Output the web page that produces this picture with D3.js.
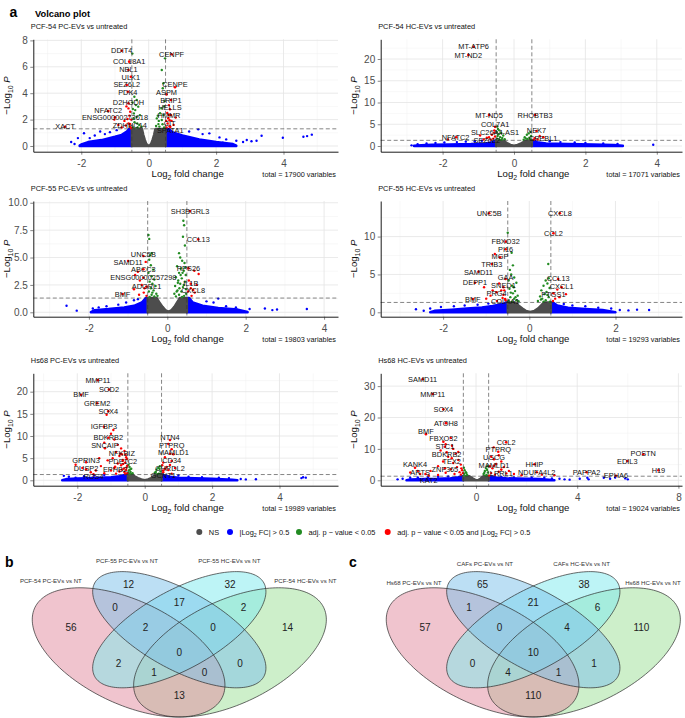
<!DOCTYPE html>
<html>
<head>
<meta charset="utf-8">
<script src="https://cdn.jsdelivr.net/npm/d3@7/dist/d3.min.js"></script>
<style>
html,body{margin:0;padding:0;background:#fff;}
svg{display:block;}
</style>
</head>
<body>
<svg id="chart" width="685" height="718"></svg>
<script>
// ================= DATA =================
const panelTitles = ["PCF-54 PC-EVs vs untreated","PCF-54 HC-EVs vs untreated","PCF-55 PC-EVs vs untreated","PCF-55 HC-EVs vs untreated","Hs68 PC-EVs vs untreated","Hs68 HC-EVs vs untreated"];
const panelTotals = [17900,17071,19803,19293,19989,19024];
const xLimits = [[-3.424,5.617],[-3.734,4.706],[-3.418,4.355],[-3.448,3.543],[-3.306,5.736],[-3.767,8.142]];
const yLimits = [[-0.432,8.083],[-1.31,24.53],[-0.401,10.16],[-0.581,14.70],[-1.219,24.15],[-1.72,34.08]];
const xTickSets = [[-2,0,2,4],[-2,0,2,4],[-2,0,2,4],[-2,0,2],[-2,0,2,4],[0,4,8]];
const yTickSets = [[0,2,4,6,8],[0,5,10,15,20],[0,2.5,5,7.5,10],[0,5,10],[0,5,10,15,20],[0,10,20,30]];
const fcCutoff = 0.5, pCutoff = 0.05;
const legendLabels = ["NS","|Log2 FC| > 0.5","adj. p − value < 0.05","adj. p − value < 0.05 and |Log2 FC| > 0.5"];

// ---- panel 1: PCF-54 PC-EVs ----
const p1Genes = [["DDIT4",-0.80,7.22],["CENPF",0.68,6.95],["COL18A1",-0.58,6.39],["NBL1",-0.60,5.76],["ULK1",-0.53,5.25],["SEZ6L2",-0.65,4.62],["CENPE",0.78,4.45],["PDK4",-0.62,4.11],["ASPM",0.53,3.91],["BRIP1",0.66,3.48],["D2HGDH",-0.60,3.23],["HELLS",0.63,2.78],["NFATC2",-1.20,2.65],["HMMR",0.60,2.35],["ENSG00000273618",-1.0,2.17],["CIT",0.62,1.95],["ZDHHC14",-0.56,1.67],["XACT",-2.48,1.46],["SPATA1",0.64,1.45]];
const p1Red = [[-0.55,1.45],[-0.6,1.7],[-0.52,2.0],[-0.68,1.55],[-0.57,2.3],[-0.63,2.05],[-0.72,1.9],[-0.55,2.6],[-0.6,2.85],[-0.52,1.35],[-0.9,1.6],[-1.02,2.0],[-0.8,1.4],[-0.66,3.0],[0.53,1.4],[0.56,1.7],[0.62,1.5],[0.58,2.1],[0.68,1.9],[0.74,1.6],[0.8,2.15],[0.55,2.5],[0.6,3.1],[0.66,2.35],[0.52,1.9]];
const p1Green = [[-0.485,7.0],[-0.425,3.73],[-0.355,3.48],[-0.40,2.72],[-0.45,2.09],[-0.34,1.71],[-0.46,1.41],[-0.26,2.34],[-0.31,2.98],[-0.38,3.1],[-0.44,2.47],[-0.28,1.59],[-0.21,1.47],[-0.36,2.2],[-0.42,1.8],[-0.48,3.3],[-0.33,1.4],[-0.47,2.8],[0.486,6.64],[0.388,5.76],[0.437,4.75],[0.418,4.37],[0.338,2.48],[0.24,2.09],[0.288,1.66],[0.437,2.34],[0.388,1.97],[0.318,1.47],[0.457,1.41],[0.22,1.52],[0.378,2.85],[0.47,3.4],[0.45,3.0],[0.3,1.9],[0.27,2.3],[0.41,1.65]];
const p1BlueDots = [[-2.1,0.6],[-1.92,0.97],[-1.75,0.6],[-1.6,0.8],[-1.44,1.1],[-1.3,0.9],[-1.15,1.05],[-0.95,1.2],[-2.3,0.3],[-2.2,0.15],[1.2,1.1],[1.47,1.26],[1.6,0.9],[1.8,0.96],[2.1,0.65],[2.3,0.5],[2.6,0.4],[2.8,0.3],[2.91,0.45],[3.05,0.36],[3.2,0.4],[3.35,0.78],[3.98,0.63],[4.59,0.7],[4.7,0.75],[4.84,0.86],[2.2,0.25]];
const p1BlueL = [[-2.05,0.03],[-2.0,0.12],[-1.8,0.3],[-1.4,0.45],[-1.0,0.7],[-0.8,0.85],[-0.65,1.1],[-0.58,1.3],[-0.5,1.3]];
const p1BlueR = [[0.5,1.3],[0.6,1.3],[0.7,1.05],[1.0,0.8],[1.5,0.5],[2.0,0.3],[2.5,0.15],[2.6,0.03]];
const p1NS = [[-0.5,1.3],[-0.2,1.3],[-0.16,0.85],[-0.12,0.5],[-0.08,0.22],[-0.04,0.07],[0,0.03],[0.04,0.07],[0.08,0.22],[0.12,0.5],[0.16,0.85],[0.2,1.3],[0.5,1.3]];

// ---- panel 2: PCF-54 HC-EVs ----
const p2Genes = [["MT-ATP6",-1.13,22.8],["MT-ND2",-1.28,20.9],["MT-ND5",-0.70,7.1],["RHOBTB3",0.59,7.1],["COL7A1",-0.53,4.4],["NEK7",0.63,3.45],["SLC26A4-AS1",-0.55,3.06],["NFATC2",-1.62,2.0],["CPEBL1",0.82,2.0],["SEZ6L2",-0.76,1.9]];
const p2Red = [[-0.62,2.6],[-0.7,2.0],[-0.58,1.7],[-0.85,1.5],[-0.95,2.4],[-1.85,1.5],[-0.55,3.6],[-0.65,1.45],[-0.53,2.2],[0.58,1.8],[0.66,1.5],[0.72,2.3],[0.55,1.4]];
const p2Green = [[-0.47,4.5],[-0.45,3.9],[-0.41,3.6],[-0.48,3.2],[-0.36,3.0],[-0.43,2.7],[-0.3,2.4],[-0.46,2.3],[-0.39,2.05],[-0.33,1.85],[-0.48,1.7],[-0.26,1.55],[-0.41,1.5],[-0.35,1.4],[0.46,3.2],[0.41,2.9],[0.36,2.6],[0.48,2.3],[0.3,2.0],[0.43,1.9],[0.38,1.6],[0.27,1.45],[0.47,1.5],[0.33,1.75]];
const p2BlueDots = [[-2.87,0.15],[-2.7,0.4],[-2.45,0.6],[-2.2,0.7],[-1.95,0.8],[-1.6,0.9],[-1.35,1.0],[-1.1,1.1],[-0.9,1.2],[1.0,1.1],[1.3,0.9],[1.7,0.8],[2.0,0.7],[2.5,0.6],[2.9,0.5],[3.9,0.3]];
const p2BlueL = [[-2.8,0.05],[-2.6,0.2],[-2.3,0.3],[-1.8,0.35],[-1.2,0.45],[-0.8,0.6],[-0.6,0.9],[-0.52,1.3],[-0.5,1.3]];
const p2BlueR = [[0.5,1.3],[0.55,1.3],[0.65,0.9],[0.9,0.6],[1.5,0.45],[2.2,0.35],[2.8,0.25],[3.05,0.05]];
const p2NS = [[-0.5,1.3],[-0.32,1.3],[-0.25,1.0],[-0.18,0.6],[-0.1,0.25],[0.0,0.05],[0.1,0.25],[0.2,0.6],[0.28,1.0],[0.36,1.3],[0.5,1.3]];

// ---- panel 3: PCF-55 PC-EVs ----
const p3Genes = [["SH3BGRL3",0.58,9.24],["CCL13",0.79,6.66],["UNC5B",-0.61,5.14],["SAMD11",-1.0,4.68],["ABCC3",-0.61,3.92],["RPS26",0.54,4.01],["ENSG00000257298",-0.61,3.16],["IL1B",0.6,2.6],["ADGRL1",-0.53,2.34],["CXCL8",0.66,2.03],["BMF",-1.14,1.67]];
const p3Red = [[-0.55,4.6],[-0.75,3.7],[-0.82,3.4],[-0.7,2.9],[-0.85,2.1],[-0.72,1.6],[-0.6,1.8],[-0.65,2.5],[-0.53,1.5],[-0.58,2.2],[0.69,3.8],[0.8,3.5],[0.75,2.5],[0.6,2.2],[0.7,1.8],[0.55,2.9],[0.62,1.5],[0.53,1.9]];
const p3Green = [[-0.48,7.05],[-0.46,6.7],[-0.40,5.4],[-0.44,5.2],[-0.46,4.8],[-0.42,4.3],[-0.36,3.9],[-0.48,3.6],[-0.4,3.3],[-0.33,3.0],[-0.45,2.8],[-0.38,2.6],[-0.3,2.4],[-0.42,2.2],[-0.35,2.0],[-0.47,1.9],[-0.28,1.7],[-0.4,1.6],[-0.33,1.45],[-0.45,1.4],[-0.25,1.5],[-0.38,1.8],[0.41,8.36],[0.43,7.95],[0.40,6.9],[0.45,6.1],[0.30,5.4],[0.33,5.0],[0.38,4.7],[0.44,4.5],[0.25,4.2],[0.35,4.0],[0.42,3.8],[0.30,3.6],[0.47,3.4],[0.22,3.2],[0.37,3.1],[0.28,2.9],[0.45,2.8],[0.33,2.6],[0.2,2.4],[0.4,2.3],[0.48,2.1],[0.26,2.0],[0.36,1.9],[0.18,1.7],[0.3,1.6],[0.43,1.5],[0.22,1.45],[0.38,1.4],[0.48,1.7],[0.27,2.7],[0.42,2.5],[0.34,3.4],[0.46,4.1],[0.24,1.9],[0.39,3.6],[0.31,2.2]];
const p3BlueDots = [[-2.57,0.6],[-2.31,0.15],[-1.9,0.35],[-1.75,0.45],[-1.55,0.55],[-1.25,0.7],[-1.05,0.9],[-0.85,1.1],[-0.75,1.2],[1.0,1.0],[1.18,0.9],[1.3,1.25],[1.5,0.55],[1.75,0.45],[2.1,0.3],[2.49,0.35],[2.68,0.2],[2.8,0.25],[3.56,0.3]];
const p3BlueL = [[-1.95,0.03],[-1.85,0.2],[-1.5,0.3],[-1.1,0.45],[-0.85,0.6],[-0.65,0.9],[-0.55,1.3],[-0.5,1.3]];
const p3BlueR = [[0.5,1.3],[0.56,1.3],[0.65,0.9],[0.9,0.6],[1.3,0.4],[1.8,0.25],[2.05,0.03]];
const p3NS = [[-0.5,1.3],[-0.27,1.3],[-0.2,0.9],[-0.12,0.5],[-0.05,0.2],[0.03,0.05],[0.11,0.2],[0.18,0.5],[0.25,0.9],[0.32,1.3],[0.5,1.3]];

// ---- panel 4: PCF-55 HC-EVs ----
const p4Genes = [["UNC5B",-0.93,13.08],["CXCL8",0.71,13.08],["CCL2",0.56,10.44],["FBXO32",-0.55,9.33],["PI16",-0.55,8.32],["MGP",-0.68,7.26],["TRIB3",-0.87,6.38],["SAMD11",-1.18,5.36],["GAA",-0.55,4.40],["CCL13",0.67,4.40],["DEPP1",-1.26,3.91],["SNED1",-0.6,3.30],["CXCL1",0.75,3.30],["PRG4",-0.76,2.64],["PTGS1",0.56,2.51],["BMF",-1.31,1.76],["COL4A1",-0.56,1.76]];
const p4Red = [[-0.8,7.7],[-0.7,3.8],[-0.65,2.9],[-0.9,2.2],[-1.0,1.8],[-0.6,2.3],[-0.75,1.5],[-0.55,1.6],[-0.58,2.9],[-0.62,1.9],[-0.85,2.9],[-1.05,3.3],[0.85,2.4],[0.7,2.0],[0.6,1.8],[0.55,1.5],[0.65,3.0]];
const p4Green = [[-0.50,10.5],[-0.41,7.87],[-0.38,6.2],[-0.45,5.6],[-0.42,5.0],[-0.35,4.6],[-0.48,4.2],[-0.3,3.9],[-0.4,3.5],[-0.46,3.1],[-0.33,2.8],[-0.38,2.5],[-0.27,2.2],[-0.44,2.0],[-0.35,1.8],[-0.3,1.6],[-0.48,1.5],[-0.4,1.4],[-0.25,1.45],[-0.36,3.3],[-0.43,2.6],[-0.32,2.0],[0.44,6.38],[0.45,4.5],[0.38,4.2],[0.42,3.8],[0.33,3.5],[0.47,3.2],[0.28,2.9],[0.4,2.7],[0.35,2.4],[0.25,2.1],[0.45,2.0],[0.3,1.8],[0.38,1.6],[0.2,1.5],[0.48,1.4],[0.33,1.4],[0.42,2.3],[0.27,1.7]];
const p4BlueDots = [[-2.63,0.4],[-2.45,0.2],[-2.3,0.5],[-2.05,0.7],[-1.75,0.8],[-1.5,0.9],[-1.2,1.0],[-0.95,1.15],[0.8,1.1],[1.0,0.9],[1.3,0.8],[1.6,0.6],[1.9,0.5],[2.1,0.3],[2.3,0.25],[2.5,0.35],[2.78,0.3]];
const p4BlueL = [[-2.3,0.03],[-2.2,0.2],[-1.8,0.35],[-1.45,0.5],[-1.1,0.65],[-0.85,0.85],[-0.62,1.1],[-0.55,1.3],[-0.5,1.3]];
const p4BlueR = [[0.5,1.3],[0.55,1.3],[0.65,0.9],[0.9,0.6],[1.3,0.45],[1.7,0.3],[2.0,0.03]];
const p4NS = [[-0.5,1.3],[-0.33,1.3],[-0.25,0.9],[-0.16,0.5],[-0.08,0.2],[0.02,0.05],[0.12,0.2],[0.2,0.5],[0.27,0.9],[0.34,1.3],[0.5,1.3]];

// ---- panel 5: Hs68 PC-EVs ----
const p5Genes = [["MMP11",-1.39,22.6],["SOD2",-1.06,20.5],["BMF",-1.89,19.3],["GREM2",-1.41,17.4],["SOX4",-1.08,15.6],["IGFBP3",-1.21,12.1],["BDKRB2",-1.08,9.62],["NTN4",0.75,9.10],["PTPRQ",0.80,7.0],["SNCAIP",-1.18,7.22],["NFKBIZ",-0.68,5.87],["MAMLD1",0.85,5.87],["PDE1C2",-0.65,4.4],["CD34",0.8,4.36],["GPRIN3",-1.74,4.06],["CHRDL2",0.75,3.45],["DUSP2",-1.74,2.48],["EPHB2",-0.88,3.07],["GCNT1",0.55,2.2],["RGS4",-1.52,1.35]];
const p5Red = [[-0.93,11.35],[-1.0,10.5],[-0.9,9.2],[-0.8,8.0],[-1.2,8.5],[-0.7,7.2],[-0.85,6.4],[-0.6,6.6],[-0.75,5.5],[-0.55,5.2],[-0.95,5.0],[-0.65,4.6],[-1.1,4.5],[-0.58,4.0],[-0.8,3.8],[-0.7,3.4],[-0.52,3.3],[-1.3,3.2],[-0.9,2.8],[-0.62,2.6],[-0.55,2.3],[-1.0,2.2],[-0.75,2.0],[-0.6,1.8],[-0.52,1.6],[-1.6,1.8],[-0.85,1.5],[-1.2,1.6],[-2.05,3.5],[-1.85,2.8],[-0.53,4.8],[-0.57,5.8],[-0.64,3.7],[-0.54,2.9],[-0.68,2.4],[-0.58,1.4],[-0.72,6.0],[-1.13,14.8],[-1.45,2.2],[-1.35,5.0],[0.7,8.2],[0.75,6.0],[0.6,5.2],[0.55,4.0],[0.65,3.0],[0.7,2.3],[0.9,2.8],[0.55,1.8],[0.8,1.5],[0.6,2.6],[0.52,3.4]];
const p5Green = [[-0.48,3.5],[-0.45,3.0],[-0.4,2.6],[-0.47,2.2],[-0.42,1.9],[-0.36,1.6],[-0.45,1.45],[-0.39,1.4],[-0.44,2.4],[-0.48,1.7],[0.45,3.2],[0.4,2.8],[0.35,2.4],[0.47,2.0],[0.3,1.7],[0.42,1.5],[0.38,1.4],[0.44,2.6],[0.33,1.9]];
const p5BlueDots = [[-2.4,1.0],[-2.25,0.8],[-2.05,0.6],[-1.8,0.9],[-1.5,1.1],[-1.2,1.2],[1.0,1.1],[1.3,0.8],[1.7,0.7],[2.2,0.6],[2.5,0.5],[2.85,0.3],[3.0,0.2],[3.3,0.25],[4.65,0.5],[4.7,0.7],[4.78,0.6]];
const p5BlueL = [[-2.45,0.03],[-2.3,0.3],[-2.0,0.4],[-1.5,0.55],[-1.0,0.7],[-0.75,0.95],[-0.6,1.2],[-0.5,1.3]];
const p5BlueR = [[0.5,1.3],[0.6,1.1],[0.75,0.8],[1.0,0.6],[1.5,0.45],[2.0,0.35],[2.6,0.15],[2.75,0.03]];
const p5NS = [[-0.5,1.3],[-0.38,1.3],[-0.3,0.9],[-0.2,0.5],[-0.1,0.2],[0.0,0.05],[0.1,0.2],[0.19,0.5],[0.26,0.9],[0.32,1.3],[0.5,1.3]];

// ---- panel 6: Hs68 HC-EVs ----
const p6Genes = [["SAMD11",-2.11,32.2],["MMP11",-1.71,27.5],["SOX4",-1.29,22.6],["ATOH8",-1.19,18.2],["BMF",-1.98,14.7],["FBXO32",-1.29,12.3],["STC1",-1.23,10.7],["BDKRB2",-1.16,8.9],["CCL2",1.19,12.1],["PTPRQ",0.88,9.1],["UGCG",0.71,6.7],["TEX2",-0.96,7.0],["MAMLD1",0.71,4.65],["HHIP",2.31,5.1],["POSTN",6.61,8.3],["EDIL3",5.98,6.15],["H19",7.21,3.18],["KANK4",-2.41,4.0],["ZNF365",-1.23,3.8],["LRRL1",1.0,3.4],["NDUFA4L2",2.40,2.55],["PAPPA2",4.37,2.55],["ARTS",-2.21,2.0],["EPHA6",5.53,1.47],["KAT2",-1.87,1.5]];
const p6Red = [[-1.0,13.5],[-1.2,11.5],[-0.9,10.0],[-1.4,9.5],[-0.8,8.5],[-1.1,7.5],[-0.7,6.5],[-1.3,6.0],[-0.9,5.5],[-0.6,5.0],[-1.5,4.5],[-0.75,4.2],[-1.0,3.5],[-0.55,3.2],[-1.8,3.0],[-0.65,2.6],[-1.2,2.4],[-0.85,2.0],[-0.6,1.8],[-1.5,1.7],[-2.0,2.0],[-2.6,2.5],[-2.3,3.0],[-0.7,9.0],[-0.95,11.0],[-0.58,3.8],[-0.52,2.3],[0.7,10.5],[0.9,8.0],[0.6,7.5],[1.0,6.0],[0.8,5.2],[0.55,4.5],[1.1,4.2],[0.65,3.8],[1.3,3.0],[0.9,2.7],[0.6,2.3],[1.5,2.0],[0.75,1.8],[1.8,1.6],[2.6,1.8],[3.1,1.6],[0.52,1.5],[1.2,2.2]];
const p6Green = [[-0.48,4.0],[-0.45,3.2],[-0.4,2.6],[-0.47,2.1],[-0.35,1.7],[-0.44,1.5],[-0.38,2.3],[0.45,4.5],[0.4,3.8],[0.35,3.0],[0.47,2.5],[0.3,2.0],[0.42,1.7],[0.38,1.5],[0.44,3.3],[0.33,2.4]];
const p6BlueDots = [[-3.1,0.3],[-2.9,0.5],[-2.6,0.8],[-2.3,0.9],[-1.9,1.0],[-1.5,1.1],[-1.1,1.2],[1.0,1.1],[1.5,0.9],[2.2,0.9],[2.7,0.8],[3.0,0.6],[3.3,0.5],[3.5,0.3],[3.7,0.2],[4.1,0.5],[4.4,0.8],[4.45,0.3],[5.05,0.8],[5.3,0.5],[5.9,0.6],[6.0,0.3],[5.5,0.9]];
const p6BlueL = [[-2.75,0.03],[-2.6,0.25],[-2.0,0.4],[-1.5,0.5],[-1.0,0.7],[-0.7,1.0],[-0.55,1.3],[-0.5,1.3]];
const p6BlueR = [[0.5,1.3],[0.6,1.2],[0.8,0.9],[1.2,0.65],[2.0,0.5],[2.5,0.4],[3.0,0.15],[3.1,0.03]];
const p6NS = [[-0.5,1.3],[-0.26,1.3],[-0.18,0.9],[-0.1,0.45],[-0.03,0.15],[0.03,0.05],[0.1,0.15],[0.17,0.45],[0.23,0.9],[0.29,1.3],[0.5,1.3]];

// ---- Venn diagrams ----
const vennBSets = ["PCF-54 PC-EVs vs NT","PCF-55 PC-EVs vs NT","PCF-55 HC-EVs vs NT","PCF-54 HC-EVs vs NT"];
const vennCSets = ["Hs68 PC-EVs vs NT","CAFs PC-EVs vs NT","CAFs HC-EVs vs NT","Hs68 HC-EVs vs NT"];
const vennBCounts = [12,17,32,0,2,0,0,2,56,2,1,13,0,0,14];
const vennCCounts = [65,21,38,1,0,10,4,6,57,0,4,110,1,1,110];

// ================= LAYOUT / STYLE =================
const FONT = '"Liberation Sans", Arial, Helvetica, sans-serif';
const COL = {ns:"#4d4d4d", fc:"#0000ff", p:"#228b22", both:"#ff0000"};
const layout = [
  {left:33.3,right:338,top:39.3,bottom:151.7},
  {left:380.7,right:682,top:39.3,bottom:151.7},
  {left:33.3,right:338,top:201,bottom:316.7},
  {left:380.7,right:682,top:201,bottom:316.7},
  {left:33.3,right:338,top:373.3,bottom:485.7},
  {left:380.7,right:682,top:373.3,bottom:485.7}
];
const panelData = [
  {genes:p1Genes,red:p1Red,green:p1Green,blue:p1BlueDots,blueL:p1BlueL,blueR:p1BlueR,ns:p1NS},
  {genes:p2Genes,red:p2Red,green:p2Green,blue:p2BlueDots,blueL:p2BlueL,blueR:p2BlueR,ns:p2NS},
  {genes:p3Genes,red:p3Red,green:p3Green,blue:p3BlueDots,blueL:p3BlueL,blueR:p3BlueR,ns:p3NS},
  {genes:p4Genes,red:p4Red,green:p4Green,blue:p4BlueDots,blueL:p4BlueL,blueR:p4BlueR,ns:p4NS},
  {genes:p5Genes,red:p5Red,green:p5Green,blue:p5BlueDots,blueL:p5BlueL,blueR:p5BlueR,ns:p5NS},
  {genes:p6Genes,red:p6Red,green:p6Green,blue:p6BlueDots,blueL:p6BlueL,blueR:p6BlueR,ns:p6NS}
];

const svg = d3.select("#chart").attr("font-family", FONT);
svg.append("rect").attr("width",685).attr("height",718).attr("fill","#fff");

function richText(sel, parts, size){
  parts.forEach(([t,m],k)=>{
    const ts = sel.append("tspan").text(t);
    if(m===1){ ts.attr("font-size",size*0.72).attr("dy",size*0.28); }
    else if(k>0 && parts[k-1][1]===1){ ts.attr("dy",-size*0.28); }
    if(m===2) ts.attr("font-style","italic");
  });
}

function minorTicks(ticks, dom){
  const step = ticks[1]-ticks[0], out=[];
  for(let v=ticks[0]-step*3.5; v<=dom[1]; v+=step){ if(v>=dom[0]) out.push(+v.toFixed(4)); }
  return out;
}

// simple label repulsion (like ggrepel): keeps labels near their points, removes overlaps
function repel(nodes, L){
  const n = nodes.length;
  for(let it=0; it<500; it++){
    let any=false;
    for(let a=0;a<n;a++){
      for(let b=a+1;b<n;b++){
        const A=nodes[a], B=nodes[b];
        const ox=(A.w+B.w)/2-Math.abs(A.x-B.x);
        const oy=(A.h+B.h)/2-Math.abs(A.y-B.y);
        if(ox>0 && oy>0){
          any=true;
          if(oy<=ox*1.6){
            const dir = A.y<B.y ? -1 : (A.y>B.y ? 1 : (A.ay>=B.ay ? -1 : 1));
            A.y += dir*(oy/2+0.15); B.y -= dir*(oy/2+0.15);
          } else {
            const dir = A.x<B.x ? -1 : 1;
            A.x += dir*(ox/2+0.15); B.x -= dir*(ox/2+0.15);
          }
        }
      }
    }
    nodes.forEach(N=>{
      N.x = Math.max(L.left+N.w/2+1, Math.min(L.right-N.w/2-1, N.x));
      N.y = Math.max(L.top+N.h/2, Math.min(L.bottom-N.h/2-1, N.y));
    });
    if(!any) break;
  }
}

function drawPanel(i){
  const L = layout[i], D = panelData[i];
  const x = d3.scaleLinear().domain(xLimits[i]).range([L.left,L.right]);
  const y = d3.scaleLinear().domain(yLimits[i]).range([L.bottom,L.top]);
  const g = svg.append("g");
  const xt = xTickSets[i], yt = yTickSets[i];
  const grid = g.append("g");
  grid.selectAll(".xm").data(minorTicks(xt,xLimits[i])).join("line")
    .attr("x1",d=>x(d)).attr("x2",d=>x(d)).attr("y1",L.top).attr("y2",L.bottom)
    .attr("stroke","#f0f0f0").attr("stroke-width",0.5);
  grid.selectAll(".ym").data(minorTicks(yt,yLimits[i])).join("line")
    .attr("y1",d=>y(d)).attr("y2",d=>y(d)).attr("x1",L.left).attr("x2",L.right)
    .attr("stroke","#f0f0f0").attr("stroke-width",0.5);
  grid.selectAll(".xM").data(xt).join("line")
    .attr("x1",d=>x(d)).attr("x2",d=>x(d)).attr("y1",L.top).attr("y2",L.bottom)
    .attr("stroke","#e4e4e4").attr("stroke-width",0.8);
  grid.selectAll(".yM").data(yt).join("line")
    .attr("y1",d=>y(d)).attr("y2",d=>y(d)).attr("x1",L.left).attr("x2",L.right)
    .attr("stroke","#e4e4e4").attr("stroke-width",0.8);

  const cid = "clip"+i;
  svg.append("clipPath").attr("id",cid).append("rect")
    .attr("x",L.left).attr("y",L.top).attr("width",L.right-L.left).attr("height",L.bottom-L.top);
  const m = g.append("g").attr("clip-path",`url(#${cid})`);
  const area = d3.area().x(d=>x(d[0])).y0(y(0)).y1(d=>y(d[1]));
  [D.blueL, D.blueR].forEach(a=>{
    m.append("path").attr("d",area(a)).attr("fill",COL.fc).attr("stroke",COL.fc)
      .attr("stroke-width",2.4).attr("stroke-linejoin","round");
  });
  m.selectAll(".bd").data(D.blue).join("circle")
    .attr("cx",d=>x(d[0])).attr("cy",d=>y(d[1])).attr("r",1.2).attr("fill",COL.fc);
  m.append("path").attr("d",area(D.ns)).attr("fill",COL.ns).attr("stroke",COL.ns)
    .attr("stroke-width",2.4).attr("stroke-linejoin","round");
  m.selectAll(".gd").data(D.green).join("circle")
    .attr("cx",d=>x(d[0])).attr("cy",d=>y(d[1])).attr("r",1.2).attr("fill",COL.p);
  m.selectAll(".rd").data(D.red).join("circle")
    .attr("cx",d=>x(d[0])).attr("cy",d=>y(d[1])).attr("r",1.2).attr("fill",COL.both);
  m.selectAll(".gn").data(D.genes).join("circle")
    .attr("cx",d=>x(d[1])).attr("cy",d=>y(d[2])).attr("r",1.3).attr("fill",COL.both);

  const dash = "4,2.5";
  g.selectAll(".vc").data([-fcCutoff, fcCutoff]).join("line")
    .attr("x1",d=>x(d)).attr("x2",d=>x(d)).attr("y1",L.top).attr("y2",L.bottom)
    .attr("stroke","#333").attr("stroke-width",0.6).attr("stroke-dasharray",dash);
  g.append("line").attr("x1",L.left).attr("x2",L.right)
    .attr("y1",y(-Math.log10(pCutoff))).attr("y2",y(-Math.log10(pCutoff)))
    .attr("stroke","#333").attr("stroke-width",0.6).attr("stroke-dasharray",dash);

  const labs = g.selectAll(".gl").data(D.genes).join("text")
    .attr("x",d=>x(d[1])).attr("y",d=>y(d[2])).attr("dy","0.35em")
    .attr("text-anchor","middle").attr("font-size",7.4).attr("fill","#111")
    .text(d=>d[0]);
  const nodes = [];
  labs.each(function(d){
    const w = this.getComputedTextLength();
    nodes.push({el:this, ax:x(d[1]), ay:y(d[2]), x:x(d[1]), y:y(d[2]), w:w+1.2, h:7.6});
  });
  repel(nodes, L);
  nodes.forEach(N=>d3.select(N.el).attr("x",N.x).attr("y",N.y));

  const xa = g.append("g").attr("transform",`translate(0,${L.bottom})`)
    .call(d3.axisBottom(x).tickValues(xt).tickSize(3).tickSizeOuter(0).tickPadding(5).tickFormat(d=>String(d)));
  const yFmt = i===2 ? d3.format(".1f") : (d=>String(d));
  const ya = g.append("g").attr("transform",`translate(${L.left},0)`)
    .call(d3.axisLeft(y).tickValues(yt).tickSize(3).tickSizeOuter(0).tickPadding(2.5).tickFormat(yFmt));
  [xa,ya].forEach(a=>{
    a.attr("font-family",FONT);
    a.select(".domain").attr("stroke","#000").attr("stroke-width",0.9);
    a.selectAll(".tick line").attr("stroke","#333").attr("stroke-width",0.6);
    a.selectAll(".tick text").attr("font-size",10).attr("fill","#4d4d4d");
  });

  g.append("text").attr("x",L.left-2.5).attr("y",L.top-10).attr("font-size",7.4).attr("fill","#111").text(panelTitles[i]);
  const xtT = g.append("text").attr("x",(L.left+L.right)/2+2).attr("y",L.bottom+25.3)
    .attr("text-anchor","middle").attr("font-size",9.6).attr("fill","#111");
  richText(xtT, [["Log",0],["2",1],[" fold change",0]], 9.6);
  g.append("text").attr("x",L.right-2).attr("y",L.bottom+25).attr("text-anchor","end")
    .attr("font-size",7.3).attr("fill","#111").text(`total = ${panelTotals[i]} variables`);
  const ym = (L.top+L.bottom)/2;
  const ytT = g.append("text").attr("transform",`translate(${L.left-23.3},${ym}) rotate(-90)`)
    .attr("text-anchor","middle").attr("font-size",9.6).attr("fill","#111");
  richText(ytT, [["\u2212Log",0],["10",1],[" ",0],["P",2]], 9.6);
}

d3.range(6).forEach(drawPanel);

svg.append("text").attr("x",9.5).attr("y",17).attr("font-size",14).attr("font-weight","bold").text("a");
svg.append("text").attr("x",35).attr("y",16.5).attr("font-size",9.3).attr("font-weight","bold").text("Volcano plot");

// legend
const legendCols = [COL.ns, COL.fc, COL.p, COL.both];
const legX = [199.3, 230, 299, 387.7];
const legY = 532;
const leg = svg.append("g");
leg.selectAll("circle").data(legendCols).join("circle")
  .attr("cx",(d,k)=>legX[k]).attr("cy",legY).attr("r",3).attr("fill",d=>d);
legendLabels.forEach((lab,k)=>{
  const t = leg.append("text").attr("x",legX[k]+9.5).attr("y",legY+2.6).attr("font-size",7.4).attr("fill","#111");
  const parts = lab.split("Log2");
  if(parts.length===1){ t.text(lab); }
  else { richText(t, [[parts[0]+"Log",0],["2",1],[parts[1],0]], 7.4); }
});

// ================= VENN =================
const ellipses = [ // [cx, cy, a, b, rotation] unit space (y up)
  [0.35,0.47,0.35,0.20,135],
  [0.50,0.57,0.33,0.15,135],
  [0.50,0.57,0.33,0.15,45],
  [0.65,0.47,0.35,0.20,45]
];
const vennFill = ["#e38da1","#7fc1e9","#81e9ed","#9fe199"];
const drawOrder = [3,0,2,1];
const regionPos = [[0.35,0.77],[0.5,0.69],[0.65,0.77],[0.31,0.67],[0.4,0.58],[0.5,0.47],[0.6,0.58],[0.69,0.67],[0.18,0.58],[0.32,0.42],[0.425,0.38],[0.5,0.28],[0.575,0.38],[0.68,0.42],[0.82,0.58]];
const setLabelPosB = [[0.12,0.786],[0.345,0.873],[0.648,0.873],[0.873,0.786]];
const setLabelPosC = [[0.147,0.778],[0.357,0.862],[0.643,0.862],[0.854,0.778]];

function ellipsePts(e){
  const r = e[4]*Math.PI/180;
  return d3.range(0,361,2).map(t=>{
    const tr=t*Math.PI/180, ux=e[2]*Math.cos(tr), uy=e[3]*Math.sin(tr);
    return [e[0]+ux*Math.cos(r)-uy*Math.sin(r), e[1]+ux*Math.sin(r)+uy*Math.cos(r)];
  });
}
function drawVenn(cx, letter, letterX, sets, counts, labPos){
  const sx = d3.scaleLinear().domain([0,1]).range([cx-169, cx+169]);
  const sy = d3.scaleLinear().domain([0.185,1.185]).range([717,490.3]);
  const line = d3.line().x(d=>sx(d[0])).y(d=>sy(d[1]));
  const g = svg.append("g");
  drawOrder.forEach(k=>{
    g.append("path").attr("d",line(ellipsePts(ellipses[k]))+"Z").attr("fill",vennFill[k]).attr("fill-opacity",0.52);
  });
  ellipses.forEach(e=>{
    g.append("path").attr("d",line(ellipsePts(e))+"Z").attr("fill","none").attr("stroke","#2b2b2b").attr("stroke-width",0.7);
  });
  g.selectAll(".cnt").data(counts).join("text")
    .attr("x",(d,k)=>sx(regionPos[k][0])).attr("y",(d,k)=>sy(regionPos[k][1])).attr("dy","0.36em")
    .attr("text-anchor","middle").attr("font-size",10).attr("fill","#222").text(d=>d);
  g.selectAll(".sl").data(sets).join("text")
    .attr("x",(d,k)=>sx(labPos[k][0])).attr("y",(d,k)=>sy(labPos[k][1])).attr("dy","0.35em")
    .attr("text-anchor","middle").attr("font-size",6.1).attr("fill","#333").text(d=>d);
  svg.append("text").attr("x",letterX).attr("y",567).attr("font-size",14).attr("font-weight","bold").text(letter);
}
drawVenn(179.3, "b", 5, vennBSets, vennBCounts, setLabelPosB);
drawVenn(533.3, "c", 349, vennCSets, vennCCounts, setLabelPosC);
</script>
</body>
</html>
